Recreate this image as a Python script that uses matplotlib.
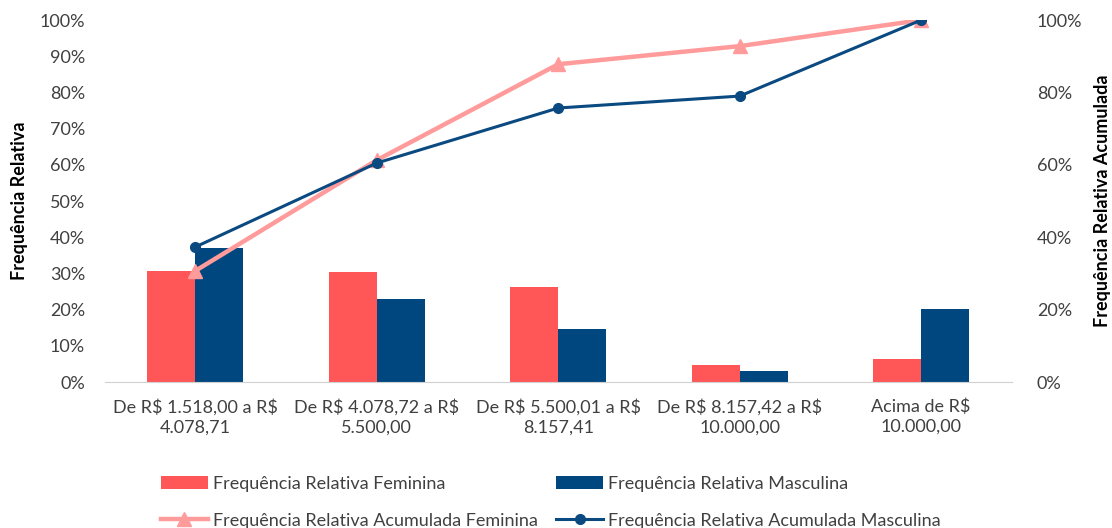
import matplotlib
matplotlib.use("Agg")
import matplotlib.pyplot as plt
import numpy as np
from matplotlib.ticker import PercentFormatter

plt.rcParams['font.family'] = ['Lato', 'DejaVu Sans']

categories = ["De R\\$ 1.518,00 a R\\$\n4.078,71", "De R\\$ 4.078,72 a R\\$\n5.500,00",
              "De R\\$ 5.500,01 a R\\$\n8.157,41", "De R\\$ 8.157,42 a R\\$\n10.000,00",
              "Acima de R\\$\n10.000,00"]
fem_rel = [30.7, 30.3, 26.3, 4.6, 6.4]
masc_rel = [37.0, 22.9, 14.7, 3.1, 20.2]
fem_acum = [30.7, 61.3, 87.8, 92.8, 100.0]
masc_acum = [37.3, 60.5, 75.7, 79.0, 100.0]

c_fem = "#FF5757"
c_masc = "#00477F"
c_fem_line = "#FF9B9B"
c_masc_line = "#0B4A80"
txt = "#404040"

fig = plt.figure(figsize=(11.12, 5.28), dpi=100)
ax = fig.add_axes([0.094, 0.2765, 0.816, 0.6855])
x = np.arange(len(categories))
w = 0.265
b1 = ax.bar(x - w/2, fem_rel, w, color=c_fem, label="Frequência Relativa Feminina")
b2 = ax.bar(x + w/2, masc_rel, w, color=c_masc, label="Frequência Relativa Masculina")
ax.set_ylim(0, 100)
ax.set_xlim(-0.5, len(categories) - 0.5)
ax.set_yticks(np.arange(0, 101, 10))
ax.yaxis.set_major_formatter(PercentFormatter(decimals=0))
ax.set_xticks(x)
ax.set_xticklabels(categories, fontsize=13, color=txt, linespacing=1.3)
ax.tick_params(axis='y', labelsize=13, labelcolor=txt, length=0, pad=14)
ax.tick_params(axis='x', length=0, pad=12)
for s in ['top', 'right', 'left']:
    ax.spines[s].set_visible(False)
ax.spines['bottom'].set_color("#D0D0D0")
ax.set_ylabel("Frequência Relativa", fontsize=13, fontweight='bold', color='black', labelpad=8)

ax2 = ax.twinx()
l1, = ax2.plot(x, fem_acum, color=c_fem_line, lw=3.2, marker='^', ms=10,
               label="Frequência Relativa Acumulada Feminina")
l2, = ax2.plot(x, masc_acum, color=c_masc_line, lw=2.2, marker='o', ms=7,
               label="Frequência Relativa Acumulada Masculina")
ax2.set_ylim(0, 100)
ax2.set_yticks(np.arange(0, 101, 20))
ax2.yaxis.set_major_formatter(PercentFormatter(decimals=0))
ax2.tick_params(axis='y', labelsize=13, labelcolor=txt, length=0, pad=18)
for s in ['top', 'right', 'left', 'bottom']:
    ax2.spines[s].set_visible(False)
ax2.set_ylabel("Frequência Relativa Acumulada", fontsize=13, fontweight='bold', color='black', labelpad=8)

fig.legend(handles=[b1, l1, b2, l2], loc='lower left', bbox_to_anchor=(0.13, -0.032),
           ncol=2, frameon=False, fontsize=13, columnspacing=1.0, handlelength=2.6,
           handletextpad=0.3, labelcolor=txt, labelspacing=1.15)

fig.savefig("out.png", dpi=100)
